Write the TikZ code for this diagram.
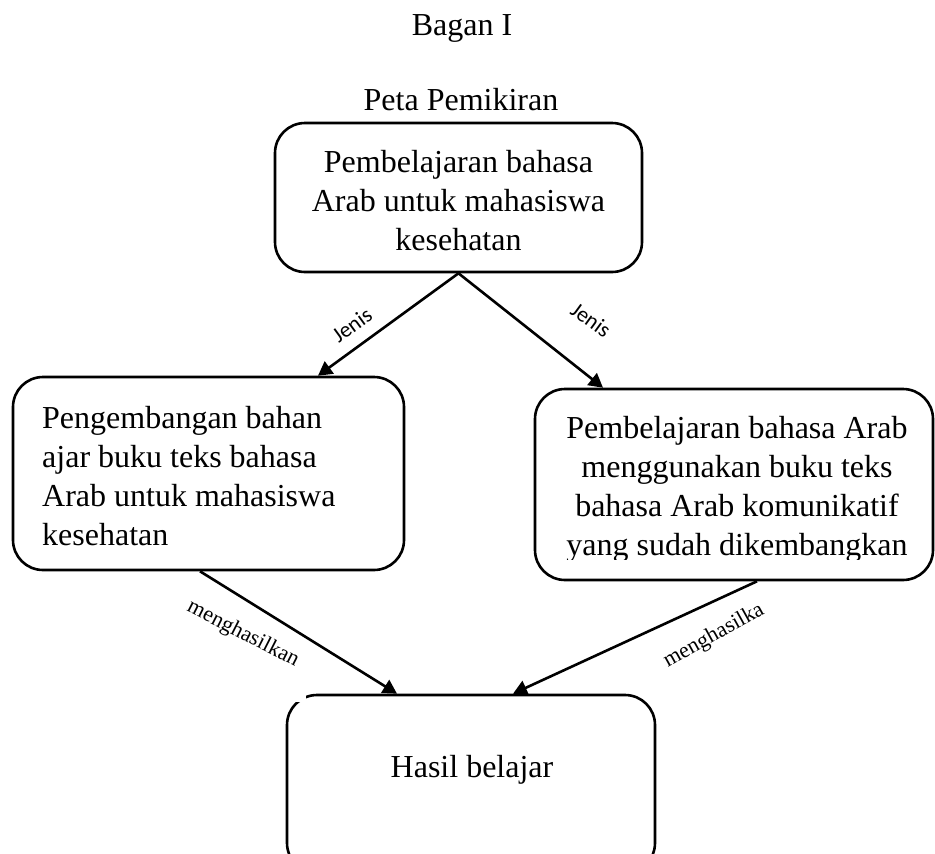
\documentclass[tikz,border=0pt]{standalone}
\usepackage{fontspec}
\setmainfont{Liberation Serif}
\newfontfamily\lblsans{Carlito}
\usetikzlibrary{arrows.meta}
\begin{document}
\begin{tikzpicture}[x=1pt,y=-1pt,
  box/.style={draw, line width=2.6pt, rounded corners=30pt, inner sep=0pt},
  boxtext/.style={inner sep=0pt, font=\fontsize{32}{39}\selectfont},
  conn/.style={line width=2.6pt, -{Triangle[length=14pt,width=15pt]}},
  sanslbl/.style={inner sep=0pt, font=\lblsans\fontsize{22}{25}\selectfont},
  seriflbl/.style={inner sep=0pt, font=\fontsize{22}{25}\selectfont}]
\clip (0,0) rectangle (935,854);
% titles
\node[boxtext, anchor=base] (title) at (462,35) {Bagan I};
\node[boxtext, anchor=base] (subtitle) at (461,110) {Peta Pemikiran};
% boxes
\node[box, minimum width=367pt, minimum height=149pt] (top) at (458.5,197.5) {};
\node[box, minimum width=391pt, minimum height=193pt] (left) at (208.5,473.5) {};
\node[box, minimum width=398pt, minimum height=191pt] (right) at (734,484.5) {};
\node[box, minimum width=368pt, minimum height=178pt] (bottom) at (471,784) {};
\fill[white] (291,686) rectangle (306,702);
% box texts
\node[boxtext, align=center, anchor=north] (ttop) at (458.5,150)
  {Pembelajaran bahasa\\Arab untuk mahasiswa\\kesehatan};
\node[boxtext, align=left, anchor=north west] (tleft) at (42,406)
  {Pengembangan bahan\\ajar buku teks bahasa\\Arab untuk mahasiswa\\kesehatan};
\begin{scope}
\clip (540,395) rectangle (930,559);
\node[boxtext, align=center, anchor=north] (tright) at (737,416)
  {Pembelajaran bahasa Arab\\menggunakan buku teks\\bahasa Arab komunikatif\\yang sudah dikembangkan};
\end{scope}
\node[boxtext, anchor=base] (tbottom) at (472,777) {Hasil belajar};
% connectors
\draw[conn] (top.south) -- ([xshift=109.5pt]left.north);
\draw[conn] (top.south) -- ([xshift=-131pt]right.north);
\draw[conn] ([xshift=-8.5pt]left.south) -- ([xshift=-74pt]bottom.north);
\draw[conn] ([xshift=23pt]right.south) -- ([xshift=42pt]bottom.north);
% labels
\node[sanslbl, rotate=36] (j1) at (352,325) {Jenis};
\node[sanslbl, rotate=-36] (j2) at (591,320) {Jenis};
\node[seriflbl, rotate=-27] (m1) at (243,634) {menghasilkan};
\node[seriflbl, rotate=29] (m2) at (714,636) {menghasilka};
\end{tikzpicture}
\end{document}
